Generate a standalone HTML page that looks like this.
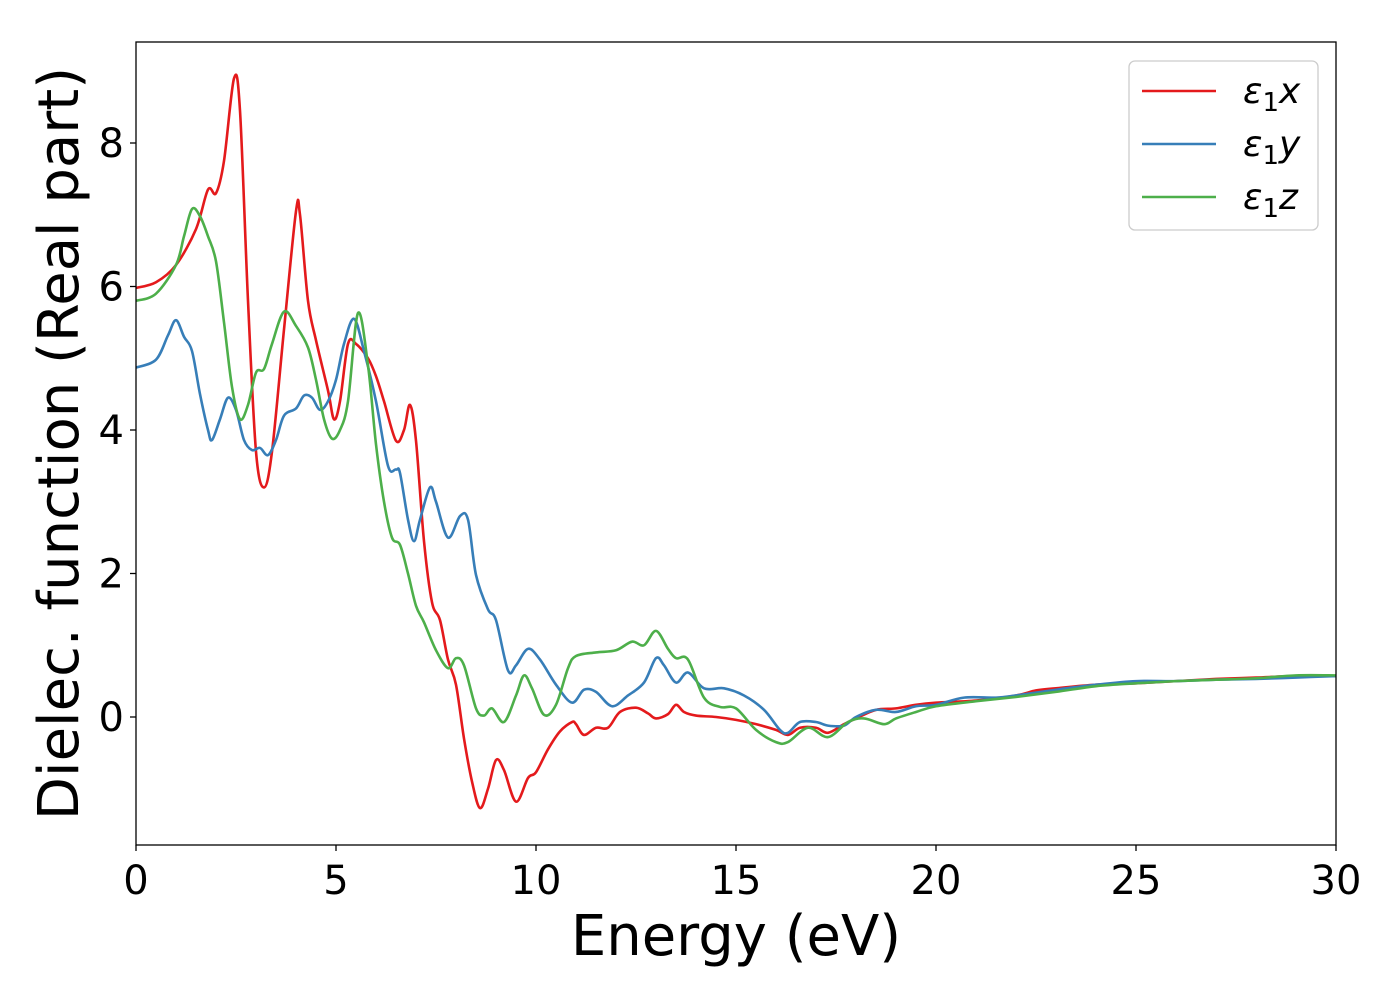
<!DOCTYPE html>
<html><head><meta charset="utf-8"><style>
html,body{margin:0;padding:0;background:#fff;}
svg{display:block;font-family:"DejaVu Sans","Liberation Sans",sans-serif;}
</style></head><body>
<svg id="chart" width="1400" height="1000" viewBox="0 0 1400 1000"></svg>
<script>
const energyX = [0,0.5,1,1.5,1.8,2,2.2,2.45,2.6,2.8,3,3.2,3.4,3.7,4,4.1,4.3,4.5,4.8,4.95,5.1,5.3,5.5,5.8,6,6.2,6.5,6.7,6.85,7,7.2,7.4,7.6,7.8,8,8.2,8.4,8.6,8.8,9,9.2,9.5,9.8,10,10.3,10.6,10.9,11,11.2,11.5,11.8,12.1,12.5,12.8,13,13.3,13.5,13.7,14,14.5,15,15.5,16,16.3,16.6,17,17.3,17.7,18,18.5,19,19.5,20,21,22,22.5,23,24,25,26,27,28,29,30];
const epsX = [5.98,6.06,6.3,6.8,7.35,7.3,7.75,8.9,8.45,5.8,3.7,3.2,3.7,5.4,7.05,7.0,5.8,5.25,4.55,4.15,4.4,5.2,5.2,5.0,4.75,4.4,3.85,4.0,4.35,3.85,2.45,1.6,1.35,0.8,0.45,-0.3,-0.9,-1.27,-1.0,-0.6,-0.74,-1.18,-0.85,-0.77,-0.45,-0.2,-0.07,-0.1,-0.25,-0.15,-0.15,0.07,0.13,0.05,-0.02,0.04,0.17,0.07,0.02,0,-0.04,-0.1,-0.18,-0.25,-0.15,-0.15,-0.22,-0.1,-0.02,0.1,0.12,0.17,0.2,0.23,0.3,0.37,0.4,0.45,0.47,0.5,0.53,0.55,0.57,0.57];
const energyY = [0,0.5,0.8,1,1.2,1.4,1.6,1.8,1.9,2.1,2.3,2.5,2.7,2.9,3.1,3.3,3.5,3.7,4,4.2,4.4,4.6,4.8,5,5.2,5.45,5.7,6,6.3,6.5,6.6,6.8,6.95,7.1,7.35,7.5,7.8,8.1,8.3,8.5,8.8,9,9.3,9.5,9.8,10.1,10.5,10.9,11.2,11.5,11.9,12.3,12.7,13,13.2,13.5,13.8,14.2,14.7,15.2,15.7,16.1,16.3,16.6,17,17.3,17.7,18,18.5,19,19.5,20,20.7,21.5,22,23,24,25,26,27,28,29,30];
const epsY = [4.87,4.98,5.32,5.53,5.3,5.1,4.5,4.0,3.86,4.15,4.45,4.28,3.86,3.72,3.75,3.65,3.86,4.2,4.3,4.48,4.45,4.28,4.4,4.7,5.2,5.55,5.1,4.4,3.5,3.45,3.4,2.75,2.45,2.75,3.2,3.0,2.5,2.8,2.75,1.98,1.5,1.35,0.65,0.72,0.95,0.8,0.45,0.2,0.38,0.35,0.15,0.3,0.48,0.82,0.72,0.48,0.62,0.4,0.4,0.3,0.1,-0.18,-0.22,-0.07,-0.07,-0.12,-0.12,0,0.1,0.07,0.15,0.17,0.27,0.27,0.3,0.38,0.45,0.5,0.5,0.52,0.53,0.55,0.57];
const energyZ = [0,0.5,1,1.2,1.4,1.6,1.8,2,2.2,2.4,2.6,2.8,3,3.2,3.4,3.7,4,4.3,4.5,4.7,4.9,5.1,5.3,5.55,5.8,6,6.2,6.4,6.6,6.8,7,7.2,7.5,7.8,8,8.2,8.5,8.7,8.9,9.2,9.5,9.7,9.9,10.2,10.5,10.8,11,11.5,12,12.4,12.7,13,13.3,13.5,13.8,14.2,14.6,15,15.5,16,16.3,16.8,17.3,17.8,18.2,18.7,19,19.5,20,21,22,23,24,25,26,27,28,29,30];
const epsZ = [5.8,5.9,6.3,6.7,7.08,6.98,6.7,6.35,5.5,4.6,4.15,4.35,4.8,4.85,5.2,5.65,5.45,5.15,4.7,4.15,3.88,4.0,4.4,5.63,4.9,3.8,3.0,2.5,2.4,2.0,1.55,1.32,0.93,0.68,0.82,0.72,0.12,0.02,0.12,-0.07,0.3,0.58,0.4,0.03,0.17,0.68,0.85,0.9,0.93,1.05,1.0,1.2,0.95,0.82,0.8,0.27,0.14,0.12,-0.18,-0.35,-0.35,-0.15,-0.28,-0.07,-0.02,-0.1,-0.02,0.07,0.15,0.22,0.28,0.35,0.43,0.47,0.5,0.52,0.54,0.58,0.58];
const xTicks = [0,5,10,15,20,25,30];
const yTicks = [0,2,4,6,8];

const NS="http://www.w3.org/2000/svg";
const svg=document.getElementById('chart');
const L=136,R=1336,T=42,B=845;
const xMin=0,xMax=30,y0px=717,pxPerUnit=71.75;
const sx=v=>L+(v-xMin)/(xMax-xMin)*(R-L);
const sy=v=>y0px-v*pxPerUnit;
function mk(tag,attrs,parent){const e=document.createElementNS(NS,tag);for(const k in attrs)e.setAttribute(k,attrs[k]);(parent||svg).appendChild(e);return e;}

const clip=mk('clipPath',{id:'pc'});mk('rect',{x:L,y:T,width:R-L,height:B-T},clip);

function pathFor(xs,ys){
  const p=xs.map((x,i)=>[sx(x),sy(ys[i])]);
  let d=`M${p[0][0]},${p[0][1]}`;
  for(let i=0;i<p.length-1;i++){
    const p0=p[Math.max(0,i-1)],p1=p[i],p2=p[i+1],p3=p[Math.min(p.length-1,i+2)];
    const c1=[p1[0]+(p2[0]-p0[0])/6,p1[1]+(p2[1]-p0[1])/6];
    const c2=[p2[0]-(p3[0]-p1[0])/6,p2[1]-(p3[1]-p1[1])/6];
    d+=`C${c1[0]},${c1[1]} ${c2[0]},${c2[1]} ${p2[0]},${p2[1]}`;
  }
  return d;
}
const series=[[energyX,epsX,'#e41a1c','series-eps1x'],[energyY,epsY,'#377eb8','series-eps1y'],[energyZ,epsZ,'#4daf4a','series-eps1z']];
series.forEach(s=>{
  const e=mk('path',{d:pathFor(s[0],s[1]),fill:'none',stroke:s[2],'stroke-width':2.6,'clip-path':'url(#pc)'});
  
  
});

const frame=mk('rect',{x:L,y:T,width:R-L,height:B-T,fill:'none',stroke:'#000','stroke-width':1.3});



xTicks.forEach(t=>{
  mk('line',{x1:sx(t),x2:sx(t),y1:B,y2:B+6,stroke:'#000','stroke-width':1.3});
  const tx=mk('text',{x:sx(t),y:B+49,'text-anchor':'middle','font-size':40});
  tx.textContent=t;
  
  
});
yTicks.forEach(t=>{
  mk('line',{x1:L-6,x2:L,y1:sy(t),y2:sy(t),stroke:'#000','stroke-width':1.3});
  const tx=mk('text',{x:L-12,y:sy(t)+14,'text-anchor':'end','font-size':40});
  tx.textContent=t;
  
  
});

const xl=mk('text',{x:(L+R)/2,y:955,'text-anchor':'middle','font-size':56});
xl.textContent='Energy (eV)';


const yl=mk('text',{x:0,y:0,'text-anchor':'middle','font-size':56,transform:`translate(78,${(T+B)/2}) rotate(-90)`});
yl.textContent='Dielec. function (Real part)';



const lg=mk('g',{});


mk('rect',{x:1129,y:61,width:189,height:169,rx:6,fill:'#fff',stroke:'#ccc','stroke-width':1.3},lg);
[['x','#e41a1c',91],['y','#377eb8',144],['z','#4daf4a',197]].forEach(e=>{
  const g=mk('g',{},lg);
  
  
  mk('line',{x1:1142,x2:1216,y1:e[2],y2:e[2],stroke:e[1],'stroke-width':2.6},g);
  const t=mk('text',{x:1243,y:e[2]+12,'font-size':36,'font-style':'italic'},g);
  t.innerHTML=`ε<tspan font-style="normal" font-size="26" dy="8">1</tspan><tspan dy="-8">${e[0]}</tspan>`;
});
</script>
</body></html>
